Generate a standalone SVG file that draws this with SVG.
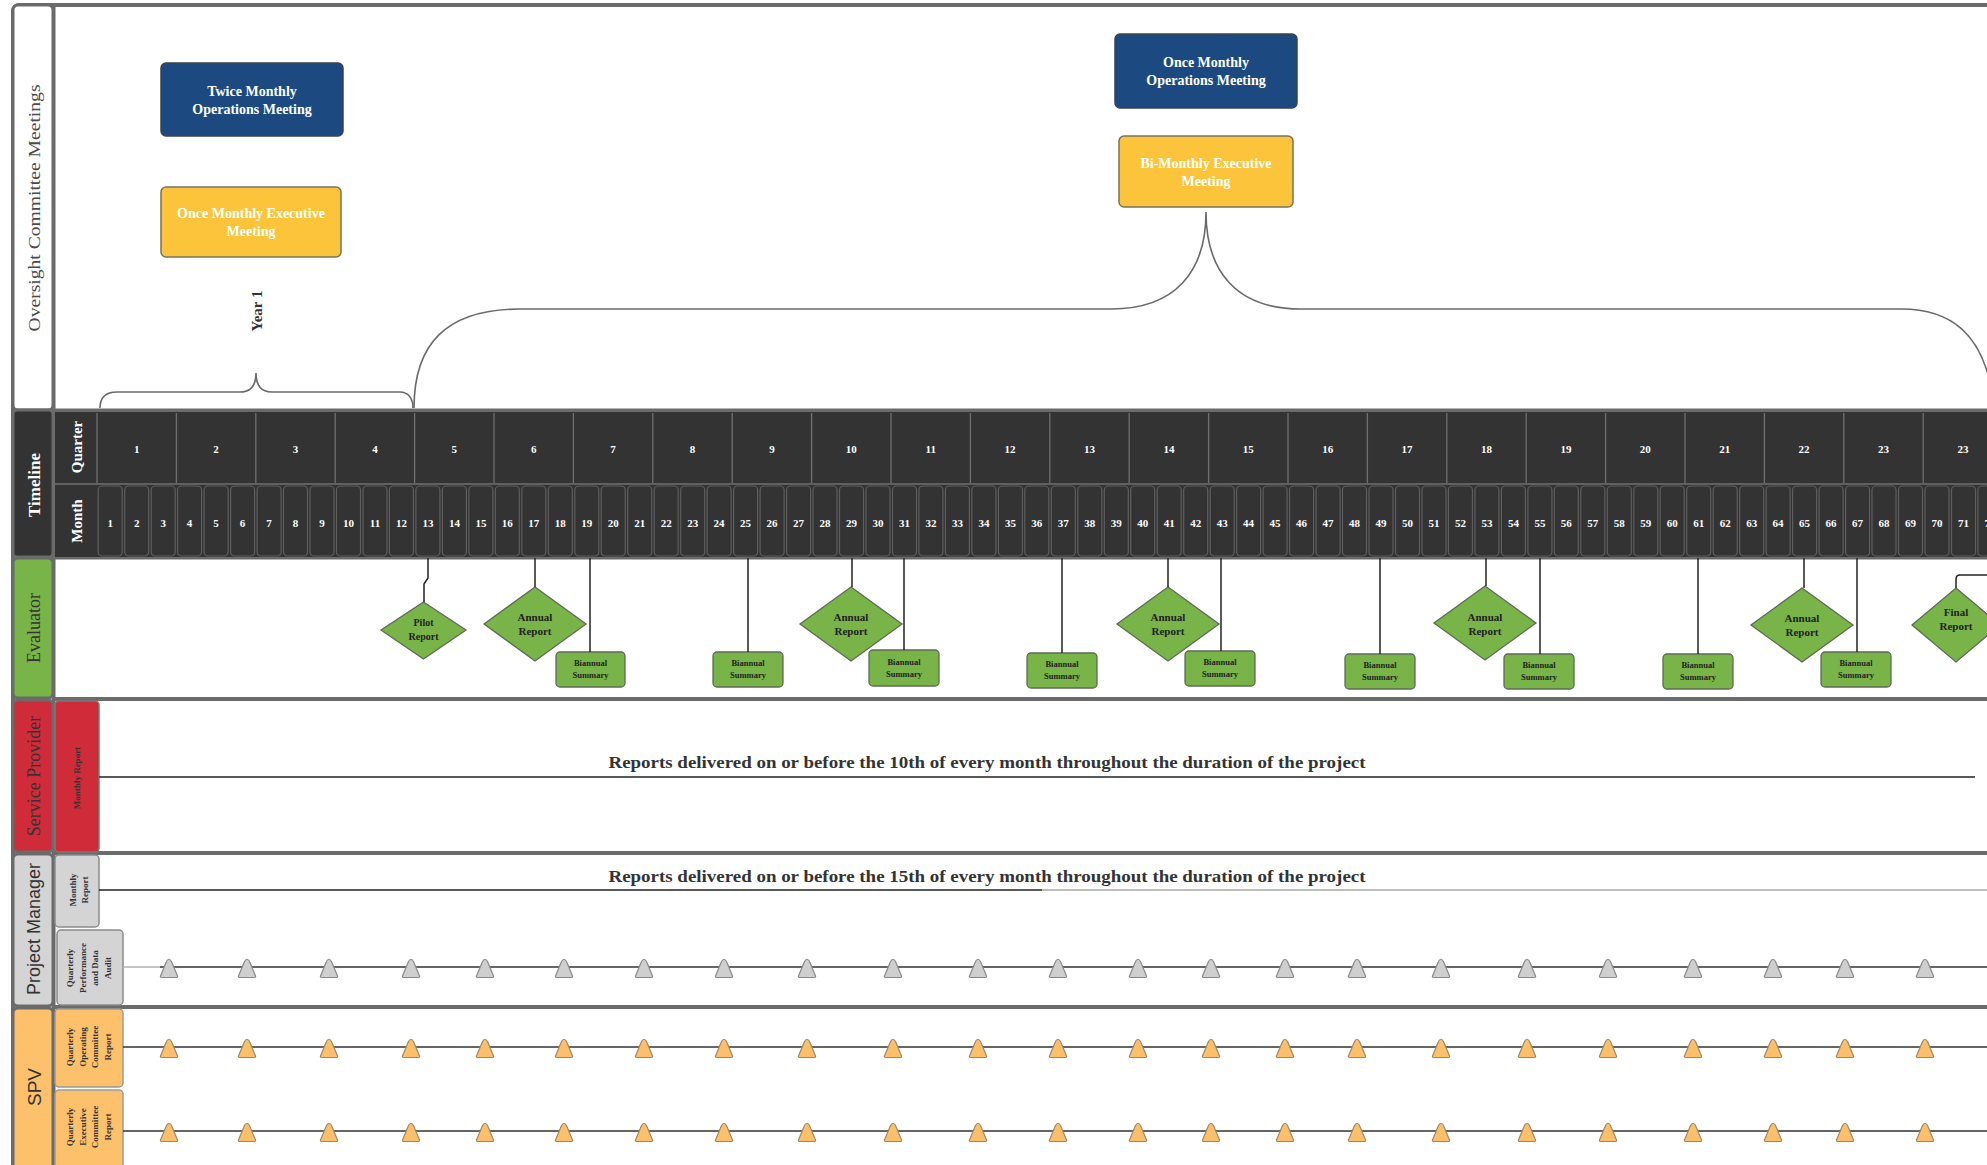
<svg xmlns="http://www.w3.org/2000/svg" xmlns:xlink="http://www.w3.org/1999/xlink" width="1987" height="1165" viewBox="0 0 1987 1165">
<style>
.serif{font-family:"Liberation Serif","DejaVu Serif",serif}
.sans{font-family:"Liberation Sans",Arial,sans-serif}
.hdr{stroke:#6b6b6b;stroke-width:3}
.lane{stroke:#6b6b6b;stroke-width:4;fill:none}
.mtg{font-family:"Liberation Serif",serif;font-weight:bold;font-size:14px;fill:#fff;text-anchor:middle;dominant-baseline:central}
.qn{font-family:"Liberation Serif",serif;font-weight:bold;font-size:11px;fill:#fff;text-anchor:middle;dominant-baseline:central}
.mcell{fill:#333;stroke:#5e5e5e;stroke-width:1.2}
.dia{fill:#78b447;stroke:#5f6b55;stroke-width:1.3}
.box{fill:#78b447;stroke:#5f6b55;stroke-width:1.3}
.ev{font-family:"Liberation Serif",serif;font-weight:bold;fill:#222;text-anchor:middle;dominant-baseline:central}
.con{stroke:#222;stroke-width:1.5;fill:none}
.brace{stroke:#6a6a6a;stroke-width:1.6;fill:none}
.tg{fill:#cfcfcf;stroke:#8a8a8a;stroke-width:1.2}
.to{fill:#fdbf6a;stroke:#9a8a6a;stroke-width:1.2}
.sub{font-family:"Liberation Serif",serif;font-weight:bold;font-size:9px;fill:#333;text-anchor:middle}
.rep{font-family:"Liberation Serif",serif;font-weight:bold;font-size:16px;fill:#333;text-anchor:middle}
</style>
<defs>
<path id="tri" d="M-8.5 9 L-2.5 -5.5 Q0 -10 2.5 -5.5 L8.5 9 Q9 10.5 7 10.5 L-7 10.5 Q-9 10.5 -8.5 9 Z"/>
</defs>
<rect width="1987" height="1165" fill="#fff"/>

<!-- lane frame -->
<g id="frame">
<rect x="13" y="5" width="2000" height="1180" rx="6" class="lane"/>
<path class="lane" d="M53.5 5 V1165 M53 410.5 H1987 M53 557.5 H1987 M53 699 H1987 M53 853 H1987 M53 1007 H1987"/>
</g>

<!-- lane headers -->
<g id="hdr-oversight">
<rect x="13" y="5" width="40" height="405" rx="5" fill="#fff" class="hdr"/>
<text class="serif" font-size="17" fill="#4a4a4a" text-anchor="middle" dominant-baseline="central" textLength="247" lengthAdjust="spacingAndGlyphs" transform="translate(34,208) rotate(-90)">Oversight Committee Meetings</text>
</g>
<g id="hdr-timeline">
<rect x="13" y="410" width="40" height="147" rx="4" fill="#333" class="hdr"/>
<text class="serif" font-size="17" font-weight="bold" fill="#fff" text-anchor="middle" dominant-baseline="central" transform="translate(34,485) rotate(-90)">Timeline</text>
</g>
<g id="hdr-evaluator">
<rect x="13" y="558" width="40" height="140" rx="5" fill="#78b447" class="hdr"/>
<text class="serif" font-size="18" fill="#333" text-anchor="middle" dominant-baseline="central" transform="translate(34,628) rotate(-90)">Evaluator</text>
</g>
<g id="hdr-sp">
<rect x="13" y="700" width="40" height="152" rx="5" fill="#cf2b39" class="hdr"/>
<text class="serif" font-size="18" fill="#333" text-anchor="middle" dominant-baseline="central" transform="translate(34,776) rotate(-90)">Service Provider</text>
</g>
<g id="hdr-pm">
<rect x="13" y="854" width="40" height="152" rx="5" fill="#d4d4d4" class="hdr"/>
<text class="sans" font-size="18" fill="#333" text-anchor="middle" dominant-baseline="central" transform="translate(34,929) rotate(-90)">Project Manager</text>
</g>
<g id="hdr-spv">
<rect x="13" y="1008" width="40" height="170" rx="5" fill="#fdc06b" class="hdr"/>
<text class="sans" font-size="19" fill="#333" text-anchor="middle" dominant-baseline="central" transform="translate(34,1087) rotate(-90)">SPV</text>
</g>

<!-- timeline -->
<g id="timeline">
<rect x="55" y="412" width="1935" height="145" fill="#333"/>
<path stroke="#707070" stroke-width="1.3" fill="none" d="M55 484 H1987 M97 413 V483 M176.4 413 V483 M255.8 413 V483 M335.2 413 V483 M414.6 413 V483 M494 413 V483 M573.4 413 V483 M652.8 413 V483 M732.2 413 V483 M811.6 413 V483 M891 413 V483 M970.4 413 V483 M1049.8 413 V483 M1129.2 413 V483 M1208.6 413 V483 M1288 413 V483 M1367.4 413 V483 M1446.8 413 V483 M1526.2 413 V483 M1605.6 413 V483 M1685 413 V483 M1764.4 413 V483 M1843.8 413 V483 M1923.2 413 V483"/>
<text class="serif" font-size="15" font-weight="bold" fill="#fff" text-anchor="middle" dominant-baseline="central" transform="translate(77,447) rotate(-90)">Quarter</text>
<text class="serif" font-size="15" font-weight="bold" fill="#fff" text-anchor="middle" dominant-baseline="central" transform="translate(77,521) rotate(-90)">Month</text>
<g id="quarters">
<text class="qn" x="136.7" y="449">1</text><text class="qn" x="216.1" y="449">2</text><text class="qn" x="295.5" y="449">3</text><text class="qn" x="374.9" y="449">4</text><text class="qn" x="454.3" y="449">5</text><text class="qn" x="533.7" y="449">6</text><text class="qn" x="613.1" y="449">7</text><text class="qn" x="692.5" y="449">8</text><text class="qn" x="771.9" y="449">9</text><text class="qn" x="851.3" y="449">10</text><text class="qn" x="930.7" y="449">11</text><text class="qn" x="1010.1" y="449">12</text><text class="qn" x="1089.5" y="449">13</text><text class="qn" x="1168.9" y="449">14</text><text class="qn" x="1248.3" y="449">15</text><text class="qn" x="1327.7" y="449">16</text><text class="qn" x="1407.1" y="449">17</text><text class="qn" x="1486.5" y="449">18</text><text class="qn" x="1565.9" y="449">19</text><text class="qn" x="1645.3" y="449">20</text><text class="qn" x="1724.7" y="449">21</text><text class="qn" x="1804.1" y="449">22</text><text class="qn" x="1883.5" y="449">23</text><text class="qn" x="1962.9" y="449">23</text>
</g>
<g id="months">
<rect class="mcell" x="98.2" y="486" width="24" height="70" rx="4"/><rect class="mcell" x="124.7" y="486" width="24" height="70" rx="4"/><rect class="mcell" x="151.2" y="486" width="24" height="70" rx="4"/><rect class="mcell" x="177.6" y="486" width="24" height="70" rx="4"/><rect class="mcell" x="204.1" y="486" width="24" height="70" rx="4"/><rect class="mcell" x="230.6" y="486" width="24" height="70" rx="4"/><rect class="mcell" x="257.1" y="486" width="24" height="70" rx="4"/><rect class="mcell" x="283.5" y="486" width="24" height="70" rx="4"/><rect class="mcell" x="310" y="486" width="24" height="70" rx="4"/><rect class="mcell" x="336.5" y="486" width="24" height="70" rx="4"/><rect class="mcell" x="363" y="486" width="24" height="70" rx="4"/><rect class="mcell" x="389.4" y="486" width="24" height="70" rx="4"/><rect class="mcell" x="415.9" y="486" width="24" height="70" rx="4"/><rect class="mcell" x="442.4" y="486" width="24" height="70" rx="4"/><rect class="mcell" x="468.9" y="486" width="24" height="70" rx="4"/><rect class="mcell" x="495.3" y="486" width="24" height="70" rx="4"/><rect class="mcell" x="521.8" y="486" width="24" height="70" rx="4"/><rect class="mcell" x="548.3" y="486" width="24" height="70" rx="4"/><rect class="mcell" x="574.8" y="486" width="24" height="70" rx="4"/><rect class="mcell" x="601.2" y="486" width="24" height="70" rx="4"/><rect class="mcell" x="627.7" y="486" width="24" height="70" rx="4"/><rect class="mcell" x="654.2" y="486" width="24" height="70" rx="4"/><rect class="mcell" x="680.7" y="486" width="24" height="70" rx="4"/><rect class="mcell" x="707.1" y="486" width="24" height="70" rx="4"/><rect class="mcell" x="733.6" y="486" width="24" height="70" rx="4"/><rect class="mcell" x="760.1" y="486" width="24" height="70" rx="4"/><rect class="mcell" x="786.6" y="486" width="24" height="70" rx="4"/><rect class="mcell" x="813" y="486" width="24" height="70" rx="4"/><rect class="mcell" x="839.5" y="486" width="24" height="70" rx="4"/><rect class="mcell" x="866" y="486" width="24" height="70" rx="4"/><rect class="mcell" x="892.5" y="486" width="24" height="70" rx="4"/><rect class="mcell" x="918.9" y="486" width="24" height="70" rx="4"/><rect class="mcell" x="945.4" y="486" width="24" height="70" rx="4"/><rect class="mcell" x="971.9" y="486" width="24" height="70" rx="4"/><rect class="mcell" x="998.4" y="486" width="24" height="70" rx="4"/><rect class="mcell" x="1024.8" y="486" width="24" height="70" rx="4"/><rect class="mcell" x="1051.3" y="486" width="24" height="70" rx="4"/><rect class="mcell" x="1077.8" y="486" width="24" height="70" rx="4"/><rect class="mcell" x="1104.3" y="486" width="24" height="70" rx="4"/><rect class="mcell" x="1130.7" y="486" width="24" height="70" rx="4"/><rect class="mcell" x="1157.2" y="486" width="24" height="70" rx="4"/><rect class="mcell" x="1183.7" y="486" width="24" height="70" rx="4"/><rect class="mcell" x="1210.2" y="486" width="24" height="70" rx="4"/><rect class="mcell" x="1236.6" y="486" width="24" height="70" rx="4"/><rect class="mcell" x="1263.1" y="486" width="24" height="70" rx="4"/><rect class="mcell" x="1289.6" y="486" width="24" height="70" rx="4"/><rect class="mcell" x="1316.1" y="486" width="24" height="70" rx="4"/><rect class="mcell" x="1342.5" y="486" width="24" height="70" rx="4"/><rect class="mcell" x="1369" y="486" width="24" height="70" rx="4"/><rect class="mcell" x="1395.5" y="486" width="24" height="70" rx="4"/><rect class="mcell" x="1422" y="486" width="24" height="70" rx="4"/><rect class="mcell" x="1448.4" y="486" width="24" height="70" rx="4"/><rect class="mcell" x="1474.9" y="486" width="24" height="70" rx="4"/><rect class="mcell" x="1501.4" y="486" width="24" height="70" rx="4"/><rect class="mcell" x="1527.9" y="486" width="24" height="70" rx="4"/><rect class="mcell" x="1554.3" y="486" width="24" height="70" rx="4"/><rect class="mcell" x="1580.8" y="486" width="24" height="70" rx="4"/><rect class="mcell" x="1607.3" y="486" width="24" height="70" rx="4"/><rect class="mcell" x="1633.8" y="486" width="24" height="70" rx="4"/><rect class="mcell" x="1660.2" y="486" width="24" height="70" rx="4"/><rect class="mcell" x="1686.7" y="486" width="24" height="70" rx="4"/><rect class="mcell" x="1713.2" y="486" width="24" height="70" rx="4"/><rect class="mcell" x="1739.7" y="486" width="24" height="70" rx="4"/><rect class="mcell" x="1766.1" y="486" width="24" height="70" rx="4"/><rect class="mcell" x="1792.6" y="486" width="24" height="70" rx="4"/><rect class="mcell" x="1819.1" y="486" width="24" height="70" rx="4"/><rect class="mcell" x="1845.6" y="486" width="24" height="70" rx="4"/><rect class="mcell" x="1872" y="486" width="24" height="70" rx="4"/><rect class="mcell" x="1898.5" y="486" width="24" height="70" rx="4"/><rect class="mcell" x="1925" y="486" width="24" height="70" rx="4"/><rect class="mcell" x="1951.5" y="486" width="24" height="70" rx="4"/><rect class="mcell" x="1977.9" y="486" width="24" height="70" rx="4"/>
<text class="qn" x="110.2" y="523">1</text><text class="qn" x="136.7" y="523">2</text><text class="qn" x="163.2" y="523">3</text><text class="qn" x="189.6" y="523">4</text><text class="qn" x="216.1" y="523">5</text><text class="qn" x="242.6" y="523">6</text><text class="qn" x="269.1" y="523">7</text><text class="qn" x="295.5" y="523">8</text><text class="qn" x="322" y="523">9</text><text class="qn" x="348.5" y="523">10</text><text class="qn" x="375" y="523">11</text><text class="qn" x="401.4" y="523">12</text><text class="qn" x="427.9" y="523">13</text><text class="qn" x="454.4" y="523">14</text><text class="qn" x="480.9" y="523">15</text><text class="qn" x="507.3" y="523">16</text><text class="qn" x="533.8" y="523">17</text><text class="qn" x="560.3" y="523">18</text><text class="qn" x="586.8" y="523">19</text><text class="qn" x="613.2" y="523">20</text><text class="qn" x="639.7" y="523">21</text><text class="qn" x="666.2" y="523">22</text><text class="qn" x="692.7" y="523">23</text><text class="qn" x="719.1" y="523">24</text><text class="qn" x="745.6" y="523">25</text><text class="qn" x="772.1" y="523">26</text><text class="qn" x="798.6" y="523">27</text><text class="qn" x="825" y="523">28</text><text class="qn" x="851.5" y="523">29</text><text class="qn" x="878" y="523">30</text><text class="qn" x="904.5" y="523">31</text><text class="qn" x="930.9" y="523">32</text><text class="qn" x="957.4" y="523">33</text><text class="qn" x="983.9" y="523">34</text><text class="qn" x="1010.4" y="523">35</text><text class="qn" x="1036.8" y="523">36</text><text class="qn" x="1063.3" y="523">37</text><text class="qn" x="1089.8" y="523">38</text><text class="qn" x="1116.3" y="523">39</text><text class="qn" x="1142.7" y="523">40</text><text class="qn" x="1169.2" y="523">41</text><text class="qn" x="1195.7" y="523">42</text><text class="qn" x="1222.2" y="523">43</text><text class="qn" x="1248.6" y="523">44</text><text class="qn" x="1275.1" y="523">45</text><text class="qn" x="1301.6" y="523">46</text><text class="qn" x="1328.1" y="523">47</text><text class="qn" x="1354.5" y="523">48</text><text class="qn" x="1381" y="523">49</text><text class="qn" x="1407.5" y="523">50</text><text class="qn" x="1434" y="523">51</text><text class="qn" x="1460.4" y="523">52</text><text class="qn" x="1486.9" y="523">53</text><text class="qn" x="1513.4" y="523">54</text><text class="qn" x="1539.9" y="523">55</text><text class="qn" x="1566.3" y="523">56</text><text class="qn" x="1592.8" y="523">57</text><text class="qn" x="1619.3" y="523">58</text><text class="qn" x="1645.8" y="523">59</text><text class="qn" x="1672.2" y="523">60</text><text class="qn" x="1698.7" y="523">61</text><text class="qn" x="1725.2" y="523">62</text><text class="qn" x="1751.7" y="523">63</text><text class="qn" x="1778.1" y="523">64</text><text class="qn" x="1804.6" y="523">65</text><text class="qn" x="1831.1" y="523">66</text><text class="qn" x="1857.6" y="523">67</text><text class="qn" x="1884" y="523">68</text><text class="qn" x="1910.5" y="523">69</text><text class="qn" x="1937" y="523">70</text><text class="qn" x="1963.5" y="523">71</text><text class="qn" x="1989.9" y="523">72</text>
</g>
</g>

<!-- sub headers -->
<g id="sub-sp-monthly">
<rect x="55" y="701" width="44" height="151" rx="4" fill="#cf2b39" stroke="#7a7a7a" stroke-width="1.5"/>
<text class="sub" dominant-baseline="central" transform="translate(77,778) rotate(-90)">Monthly Report</text>
</g>
<g id="sub-pm-monthly">
<rect x="55" y="855" width="44" height="72" rx="4" fill="#d4d4d4" stroke="#8a8a8a" stroke-width="1.5"/>
<text class="sub" transform="translate(76,890) rotate(-90)"><tspan x="0" y="0">Monthly</tspan><tspan x="0" y="12">Report</tspan></text>
</g>
<g id="sub-pm-quarterly">
<rect x="57" y="930" width="66" height="75" rx="4" fill="#d4d4d4" stroke="#8a8a8a" stroke-width="1.5"/>
<text class="sub" transform="translate(73,968) rotate(-90)"><tspan x="0" y="0">Quarterly</tspan><tspan x="0" y="12.5">Performance</tspan><tspan x="0" y="25">and Data</tspan><tspan x="0" y="37.5">Audit</tspan></text>
</g>
<g id="sub-spv-operating">
<rect x="55" y="1009" width="68" height="78" rx="4" fill="#fdc06b" stroke="#9a9a9a" stroke-width="1.5"/>
<text class="sub" transform="translate(73,1047) rotate(-90)"><tspan x="0" y="0">Quarterly</tspan><tspan x="0" y="12.5">Operating</tspan><tspan x="0" y="25">Committee</tspan><tspan x="0" y="37.5">Report</tspan></text>
</g>
<g id="sub-spv-executive">
<rect x="55" y="1090" width="68" height="85" rx="4" fill="#fdc06b" stroke="#9a9a9a" stroke-width="1.5"/>
<text class="sub" transform="translate(73,1127) rotate(-90)"><tspan x="0" y="0">Quarterly</tspan><tspan x="0" y="12.5">Executive</tspan><tspan x="0" y="25">Committee</tspan><tspan x="0" y="37.5">Report</tspan></text>
</g>

<!-- meeting nodes -->
<g id="twice-monthly-ops">
<rect x="161" y="63" width="182" height="73" rx="5" fill="#1c4a80" stroke="#3a4350" stroke-width="1.5"/>
<text class="mtg" x="252" y="91">Twice Monthly</text>
<text class="mtg" x="252" y="109">Operations Meeting</text>
</g>
<g id="once-monthly-exec">
<rect x="161" y="187" width="180" height="70" rx="5" fill="#fbc43b" stroke="#7a7060" stroke-width="1.5"/>
<text class="mtg" x="251" y="213">Once Monthly Executive</text>
<text class="mtg" x="251" y="231">Meeting</text>
</g>
<g id="once-monthly-ops">
<rect x="1115" y="34" width="182" height="74" rx="5" fill="#1c4a80" stroke="#3a4350" stroke-width="1.5"/>
<text class="mtg" x="1206" y="62">Once Monthly</text>
<text class="mtg" x="1206" y="80">Operations Meeting</text>
</g>
<g id="bi-monthly-exec">
<rect x="1119" y="136" width="174" height="71" rx="5" fill="#fbc43b" stroke="#7a7060" stroke-width="1.5"/>
<text class="mtg" x="1206" y="163">Bi-Monthly Executive</text>
<text class="mtg" x="1206" y="181">Meeting</text>
</g>
<g id="year1">
<text class="serif" font-size="15" font-weight="bold" fill="#333" text-anchor="middle" dominant-baseline="central" transform="translate(257,311) rotate(-90)">Year 1</text>
</g>

<!-- evaluator nodes -->
<g id="pilot-report"><path class="dia" d="M423.5 602 L466 630 L423.5 659 L381 630 Z"/><text class="ev" font-size="10"><tspan x="423.5" y="622">Pilot</tspan><tspan x="423.5" y="636">Report</tspan></text></g>
<g id="annual-report-1"><path class="dia" d="M535 587 L586 624 L535 661 L484 624 Z"/><text class="ev" font-size="11"><tspan x="535" y="617">Annual</tspan><tspan x="535" y="631">Report</tspan></text></g>
<g id="annual-report-2"><path class="dia" d="M851 587 L902 624 L851 661 L800 624 Z"/><text class="ev" font-size="11"><tspan x="851" y="617">Annual</tspan><tspan x="851" y="631">Report</tspan></text></g>
<g id="annual-report-3"><path class="dia" d="M1168 587 L1219 624 L1168 661 L1117 624 Z"/><text class="ev" font-size="11"><tspan x="1168" y="617">Annual</tspan><tspan x="1168" y="631">Report</tspan></text></g>
<g id="annual-report-4"><path class="dia" d="M1485 586 L1536 623 L1485 660 L1434 623 Z"/><text class="ev" font-size="11"><tspan x="1485" y="617">Annual</tspan><tspan x="1485" y="631">Report</tspan></text></g>
<g id="annual-report-5"><path class="dia" d="M1802 588 L1853 625 L1802 662 L1751 625 Z"/><text class="ev" font-size="11"><tspan x="1802" y="618">Annual</tspan><tspan x="1802" y="632">Report</tspan></text></g>
<g id="final-report"><path class="dia" d="M1956 588 L2000 625 L1956 662 L1912 625 Z"/><text class="ev" font-size="11"><tspan x="1956" y="612">Final</tspan><tspan x="1956" y="626">Report</tspan></text></g>
<g id="biannual-1"><rect class="box" x="556" y="652" width="69" height="35" rx="4"/><text class="ev" font-size="8.5"><tspan x="590.5" y="663">Biannual</tspan><tspan x="590.5" y="675">Summary</tspan></text></g>
<g id="biannual-2"><rect class="box" x="713" y="652" width="70" height="35" rx="4"/><text class="ev" font-size="8.5"><tspan x="748" y="663">Biannual</tspan><tspan x="748" y="675">Summary</tspan></text></g>
<g id="biannual-3"><rect class="box" x="869" y="650" width="70" height="36" rx="4"/><text class="ev" font-size="8.5"><tspan x="904" y="662">Biannual</tspan><tspan x="904" y="674">Summary</tspan></text></g>
<g id="biannual-4"><rect class="box" x="1027" y="653" width="70" height="35" rx="4"/><text class="ev" font-size="8.5"><tspan x="1062" y="664">Biannual</tspan><tspan x="1062" y="676">Summary</tspan></text></g>
<g id="biannual-5"><rect class="box" x="1185" y="651" width="70" height="35" rx="4"/><text class="ev" font-size="8.5"><tspan x="1220" y="662">Biannual</tspan><tspan x="1220" y="674">Summary</tspan></text></g>
<g id="biannual-6"><rect class="box" x="1345" y="654" width="70" height="35" rx="4"/><text class="ev" font-size="8.5"><tspan x="1380" y="665">Biannual</tspan><tspan x="1380" y="677">Summary</tspan></text></g>
<g id="biannual-7"><rect class="box" x="1504" y="654" width="70" height="35" rx="4"/><text class="ev" font-size="8.5"><tspan x="1539" y="665">Biannual</tspan><tspan x="1539" y="677">Summary</tspan></text></g>
<g id="biannual-8"><rect class="box" x="1663" y="654" width="70" height="35" rx="4"/><text class="ev" font-size="8.5"><tspan x="1698" y="665">Biannual</tspan><tspan x="1698" y="677">Summary</tspan></text></g>
<g id="biannual-9"><rect class="box" x="1821" y="652" width="70" height="35" rx="4"/><text class="ev" font-size="8.5"><tspan x="1856" y="663">Biannual</tspan><tspan x="1856" y="675">Summary</tspan></text></g>

<!-- report lines text -->
<g id="sp-text"><text class="rep" x="987" y="768" textLength="757" lengthAdjust="spacingAndGlyphs">Reports delivered on or before the 10th of every month throughout the duration of the project</text></g>
<g id="pm-text"><text class="rep" x="987" y="882" textLength="757" lengthAdjust="spacingAndGlyphs">Reports delivered on or before the 15th of every month throughout the duration of the project</text></g>

<!-- connectors -->
<g id="connectors">
<path class="con" d="M428 558 V578 L424 584 V602"/>
<path class="con" d="M535 558 V587"/>
<path class="con" d="M590 558 V652"/>
<path class="con" d="M748 558 V652"/>
<path class="con" d="M852 558 V587"/>
<path class="con" d="M904 558 V650"/>
<path class="con" d="M1062 558 V653"/>
<path class="con" d="M1168 558 V587"/>
<path class="con" d="M1221 558 V651"/>
<path class="con" d="M1380 558 V654"/>
<path class="con" d="M1486 558 V586"/>
<path class="con" d="M1540 558 V654"/>
<path class="con" d="M1698 558 V654"/>
<path class="con" d="M1804 558 V588"/>
<path class="con" d="M1857 558 V652"/>
<path class="con" d="M1956 588 V579 Q1956 575 1960 575 H1990"/>
<path class="brace" d="M100 408 C100 397 106 392 117 392 L240 392 C250 392 256 386 256 373 C256 386 262 392 272 392 L400 392 C408 392 413 398 413 408"/>
<path class="brace" d="M414 408 C414 345 445 309 520 309 L1111 309 C1175 309 1206 272 1206 212 C1206 272 1237 309 1301 309 L1901 309 C1952 309 1982 335 1992 392"/>
<path stroke="#222" stroke-width="1.6" fill="none" d="M99 777 H1975"/>
<path stroke="#222" stroke-width="1.6" fill="none" d="M99 890 H1042"/>
<path stroke="#bdbdbd" stroke-width="1.8" fill="none" d="M1042 890 H1987"/>
<path stroke="#b0b0b0" stroke-width="1.6" fill="none" d="M123 967 H160"/>
<path stroke="#333" stroke-width="1.6" fill="none" d="M160 967 H1987"/>
<path stroke="#333" stroke-width="1.6" fill="none" d="M123 1047 H1987"/>
<path stroke="#333" stroke-width="1.6" fill="none" d="M123 1131 H1987"/>
</g>

<!-- milestone markers -->
<g id="pm-audit-markers" class="tg">
<use href="#tri" x="169" y="967"/><use href="#tri" x="247" y="967"/><use href="#tri" x="329" y="967"/><use href="#tri" x="411" y="967"/><use href="#tri" x="485" y="967"/><use href="#tri" x="564" y="967"/><use href="#tri" x="644" y="967"/><use href="#tri" x="724" y="967"/><use href="#tri" x="807" y="967"/><use href="#tri" x="893" y="967"/><use href="#tri" x="978" y="967"/><use href="#tri" x="1058" y="967"/><use href="#tri" x="1138" y="967"/><use href="#tri" x="1211" y="967"/><use href="#tri" x="1285" y="967"/><use href="#tri" x="1357" y="967"/><use href="#tri" x="1441" y="967"/><use href="#tri" x="1527" y="967"/><use href="#tri" x="1608" y="967"/><use href="#tri" x="1693" y="967"/><use href="#tri" x="1773" y="967"/><use href="#tri" x="1845" y="967"/><use href="#tri" x="1925" y="967"/>
</g>
<g id="spv-operating-markers" class="to">
<use href="#tri" x="169" y="1047"/><use href="#tri" x="247" y="1047"/><use href="#tri" x="329" y="1047"/><use href="#tri" x="411" y="1047"/><use href="#tri" x="485" y="1047"/><use href="#tri" x="564" y="1047"/><use href="#tri" x="644" y="1047"/><use href="#tri" x="724" y="1047"/><use href="#tri" x="807" y="1047"/><use href="#tri" x="893" y="1047"/><use href="#tri" x="978" y="1047"/><use href="#tri" x="1058" y="1047"/><use href="#tri" x="1138" y="1047"/><use href="#tri" x="1211" y="1047"/><use href="#tri" x="1285" y="1047"/><use href="#tri" x="1357" y="1047"/><use href="#tri" x="1441" y="1047"/><use href="#tri" x="1527" y="1047"/><use href="#tri" x="1608" y="1047"/><use href="#tri" x="1693" y="1047"/><use href="#tri" x="1773" y="1047"/><use href="#tri" x="1845" y="1047"/><use href="#tri" x="1925" y="1047"/>
</g>
<g id="spv-executive-markers" class="to">
<use href="#tri" x="169" y="1131"/><use href="#tri" x="247" y="1131"/><use href="#tri" x="329" y="1131"/><use href="#tri" x="411" y="1131"/><use href="#tri" x="485" y="1131"/><use href="#tri" x="564" y="1131"/><use href="#tri" x="644" y="1131"/><use href="#tri" x="724" y="1131"/><use href="#tri" x="807" y="1131"/><use href="#tri" x="893" y="1131"/><use href="#tri" x="978" y="1131"/><use href="#tri" x="1058" y="1131"/><use href="#tri" x="1138" y="1131"/><use href="#tri" x="1211" y="1131"/><use href="#tri" x="1285" y="1131"/><use href="#tri" x="1357" y="1131"/><use href="#tri" x="1441" y="1131"/><use href="#tri" x="1527" y="1131"/><use href="#tri" x="1608" y="1131"/><use href="#tri" x="1693" y="1131"/><use href="#tri" x="1773" y="1131"/><use href="#tri" x="1845" y="1131"/><use href="#tri" x="1925" y="1131"/>
</g>
</svg>
